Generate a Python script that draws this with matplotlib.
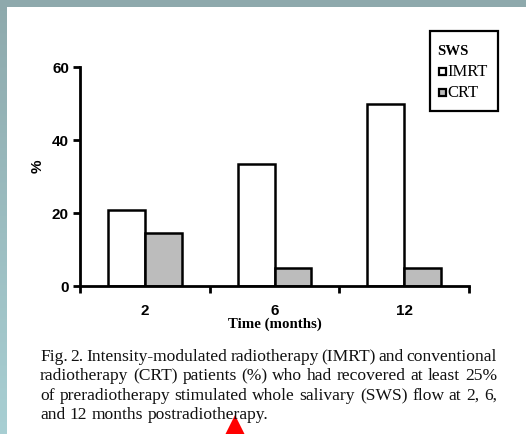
import numpy as np
import matplotlib
matplotlib.use("Agg")
import matplotlib.pyplot as plt
from matplotlib.patches import Rectangle, Polygon

# Data
months = ["2", "6", "12"]
imrt = [20.8, 33.4, 50.0]
crt = [14.6, 5.0, 5.0]
y_ticks = [0, 20, 40, 60]

caption_lines = [
    "Fig. 2. Intensity-modulated radiotherapy (IMRT) and conventional",
    "radiotherapy (CRT) patients (%) who had recovered at least 25%",
    "of preradiotherapy stimulated whole salivary (SWS) flow at 2, 6,",
    "and 12 months postradiotherapy.",
]

W, H = 526, 435
fig = plt.figure(figsize=(W / 100, H / 100), dpi=100)


def fx(px):
    return px / W


def fy(py):
    return 1 - py / H


# Slide background: vertical teal gradient with a white panel
bg = fig.add_axes([0, 0, 1, 1], zorder=-10)
top_c = np.array([142, 169, 172]) / 255
bot_c = np.array([168, 207, 211]) / 255
t = np.linspace(0, 1, 256)[:, None]
grad = (top_c[None, :] * (1 - t) + bot_c[None, :] * t)[:, None, :]
bg.imshow(grad, aspect="auto", extent=[0, 1, 0, 1], origin="upper")
bg.add_patch(Rectangle((fx(7), 0), 1 - fx(7), fy(8), facecolor="white",
                       edgecolor="none"))
bg.set_xlim(0, 1)
bg.set_ylim(0, 1)
bg.axis("off")

# Bar chart
ax = fig.add_axes([fx(80), fy(287), fx(469) - fx(80), fy(68) - fy(287)])
ax.set_facecolor("none")
x = np.arange(len(months))
bw = 0.285
ax.bar(x - bw / 2, imrt, bw, facecolor="white", edgecolor="black",
       linewidth=1.8, label="IMRT")
ax.bar(x + bw / 2, crt, bw, facecolor="#bcbcbc", edgecolor="black",
       linewidth=1.8, label="CRT")

ax.set_xlim(-0.5, len(months) - 0.5)
ax.set_ylim(0, 60)
for s in ["top", "right"]:
    ax.spines[s].set_visible(False)
for s in ["left", "bottom"]:
    ax.spines[s].set_linewidth(2)

ax.set_yticks(y_ticks)
ax.set_yticklabels([str(v) for v in y_ticks], fontfamily="Liberation Sans",
                   fontweight="bold", fontsize=11)
ax.tick_params(axis="y", length=5, width=2, pad=3)

ax.set_xticks(np.arange(-0.5, len(months)))
ax.set_xticklabels([])
ax.tick_params(axis="x", which="major", length=5, width=2)
ax.set_xticks(x, minor=True)
ax.set_xticklabels(months, minor=True, fontfamily="Liberation Sans",
                   fontweight="bold", fontsize=11)
ax.tick_params(axis="x", which="minor", length=0, pad=12)

ax.set_ylabel("%", fontfamily="Liberation Sans", fontweight="bold",
              fontsize=11)
ax.yaxis.set_label_coords(-0.09, 0.55)
ax.set_xlabel("Time (months)", fontfamily="Liberation Serif",
              fontweight="bold", fontsize=10.7, labelpad=0)

# Legend box
bg.add_patch(Rectangle((fx(430), fy(112)), fx(498) - fx(430),
                       fy(32) - fy(112), facecolor="white",
                       edgecolor="black", linewidth=1.6))
fig.text(fx(437), fy(52), "SWS", fontfamily="Liberation Serif",
         fontweight="bold", fontsize=10.7, va="center", ha="left")
for label, face, yc in [("IMRT", "white", 72), ("CRT", "#bcbcbc", 93)]:
    bg.add_patch(Rectangle((fx(439), fy(yc + 3.5)), fx(7), 7 / H,
                           facecolor=face, edgecolor="black", linewidth=1.6))
    fig.text(fx(447), fy(yc), label, fontfamily="Liberation Serif",
             fontsize=12, va="center", ha="left")

# Justified caption
cap_left, cap_right = 40, 497
baselines = [361, 380.5, 400, 419.5]
cap_size = 12.6
renderer = fig.canvas.get_renderer()


def word_width(w):
    tt = fig.text(0, 0, w, fontfamily="Liberation Serif", fontsize=cap_size)
    ww = tt.get_window_extent(renderer).width
    tt.remove()
    return ww


space_w = word_width("a b") - word_width("ab")
for i, line in enumerate(caption_lines):
    words = line.split(" ")
    widths = [word_width(w) for w in words]
    if i < len(caption_lines) - 1 and len(words) > 1:
        gap = (cap_right - cap_left - sum(widths)) / (len(words) - 1)
    else:
        gap = space_w
    xp = cap_left
    for w, ww in zip(words, widths):
        fig.text(fx(xp), fy(baselines[i]), w, fontfamily="Liberation Serif",
                 fontsize=cap_size, va="baseline", ha="left",
                 color="#111111")
        xp += ww + gap

# Red pointer triangle
bg.add_patch(Polygon([(fx(235), fy(416)), (fx(225.5), fy(435)),
                      (fx(244.5), fy(435))], closed=True, facecolor="red",
                     edgecolor="none"))

fig.savefig("out.png", dpi=100)
